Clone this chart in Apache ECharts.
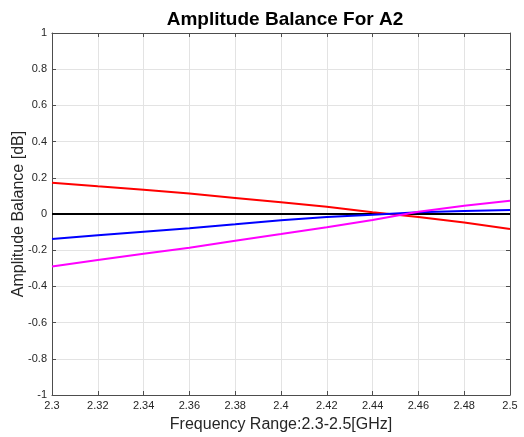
<!DOCTYPE html>
<html><head><meta charset="utf-8">
<script src="https://cdn.jsdelivr.net/npm/echarts@6/dist/echarts.min.js"></script>
<style>html,body{margin:0;padding:0;background:#fff}#c{width:524px;height:437px}</style>
</head><body><div id="c"></div>
<script>
const freq = [2.30, 2.32, 2.34, 2.36, 2.38, 2.40, 2.42, 2.44, 2.46, 2.48, 2.50];
const redVals = [0.173, 0.153, 0.134, 0.113, 0.089, 0.065, 0.040, 0.010, -0.016, -0.047, -0.083];
const blueVals = [-0.138, -0.118, -0.098, -0.079, -0.057, -0.034, -0.016, -0.004, 0.009, 0.017, 0.022];
const magentaVals = [-0.290, -0.254, -0.219, -0.186, -0.148, -0.111, -0.073, -0.033, 0.013, 0.045, 0.073];
const zeroVals = [0, 0, 0, 0, 0, 0, 0, 0, 0, 0, 0];

const pair = a => freq.map((f, i) => [f, a[i]]);
const fmt = v => String(parseFloat(v.toFixed(2)));
const axisCol = '#4d4d4d';
const lblCol = '#262626';
const font = 'Liberation Sans, Arial, sans-serif';

const chart = echarts.init(document.getElementById('c'));
const mk = (name, data, color) => ({
  name, type: 'line', data: pair(data), showSymbol: false, symbol: 'none',
  lineStyle: { color, width: 2 }, itemStyle: { color }, animation: false, z: 3
});
const box = (extra) => Object.assign({
  axisLine: { show: true, onZero: false, lineStyle: { color: axisCol, width: 1 } },
  axisTick: { show: true, inside: true, length: 4, lineStyle: { color: axisCol } },
  axisLabel: { show: false }, splitLine: { show: false }
}, extra);
chart.setOption({
  animation: false,
  title: {
    text: 'Amplitude Balance For A2', left: 280, top: 5, textAlign: 'center',
    textStyle: { fontFamily: font, fontSize: 19, fontWeight: 'bold', color: '#000' }
  },
  grid: { left: 52, right: 14, top: 33, bottom: 42, containLabel: false, outerBoundsMode: 'none' },
  xAxis: [box({
    type: 'value', min: 2.3, max: 2.5, interval: 0.02, position: 'bottom',
    name: 'Frequency Range:2.3-2.5[GHz]', nameLocation: 'middle', nameGap: 22, nameMoveOverlap: false,
    nameTextStyle: { fontFamily: font, fontSize: 16, color: lblCol },
    axisLabel: { show: true, formatter: fmt, fontFamily: font, fontSize: 11, color: lblCol, margin: 5 },
    splitLine: { show: true, lineStyle: { color: '#e3e3e3', width: 1 } }
  }), box({
    type: 'value', position: 'top', min: 2.3, max: 2.5, interval: 0.02
  })],
  yAxis: [box({
    type: 'value', min: -1, max: 1, interval: 0.2, position: 'left',
    name: 'Amplitude Balance [dB]', nameLocation: 'middle', nameGap: 25, nameMoveOverlap: false,
    nameTextStyle: { fontFamily: font, fontSize: 16, color: lblCol },
    axisLabel: { show: true, formatter: fmt, fontFamily: font, fontSize: 11, color: lblCol, margin: 5 },
    splitLine: { show: true, lineStyle: { color: '#e3e3e3', width: 1 } }
  }), box({
    type: 'value', position: 'right', min: -1, max: 1, interval: 0.2
  })],
  series: [
    mk('zero', zeroVals, '#000000'),
    mk('red', redVals, '#ff0000'),
    mk('blue', blueVals, '#0000ff'),
    mk('magenta', magentaVals, '#ff00ff')
  ]
});
</script></body></html>
